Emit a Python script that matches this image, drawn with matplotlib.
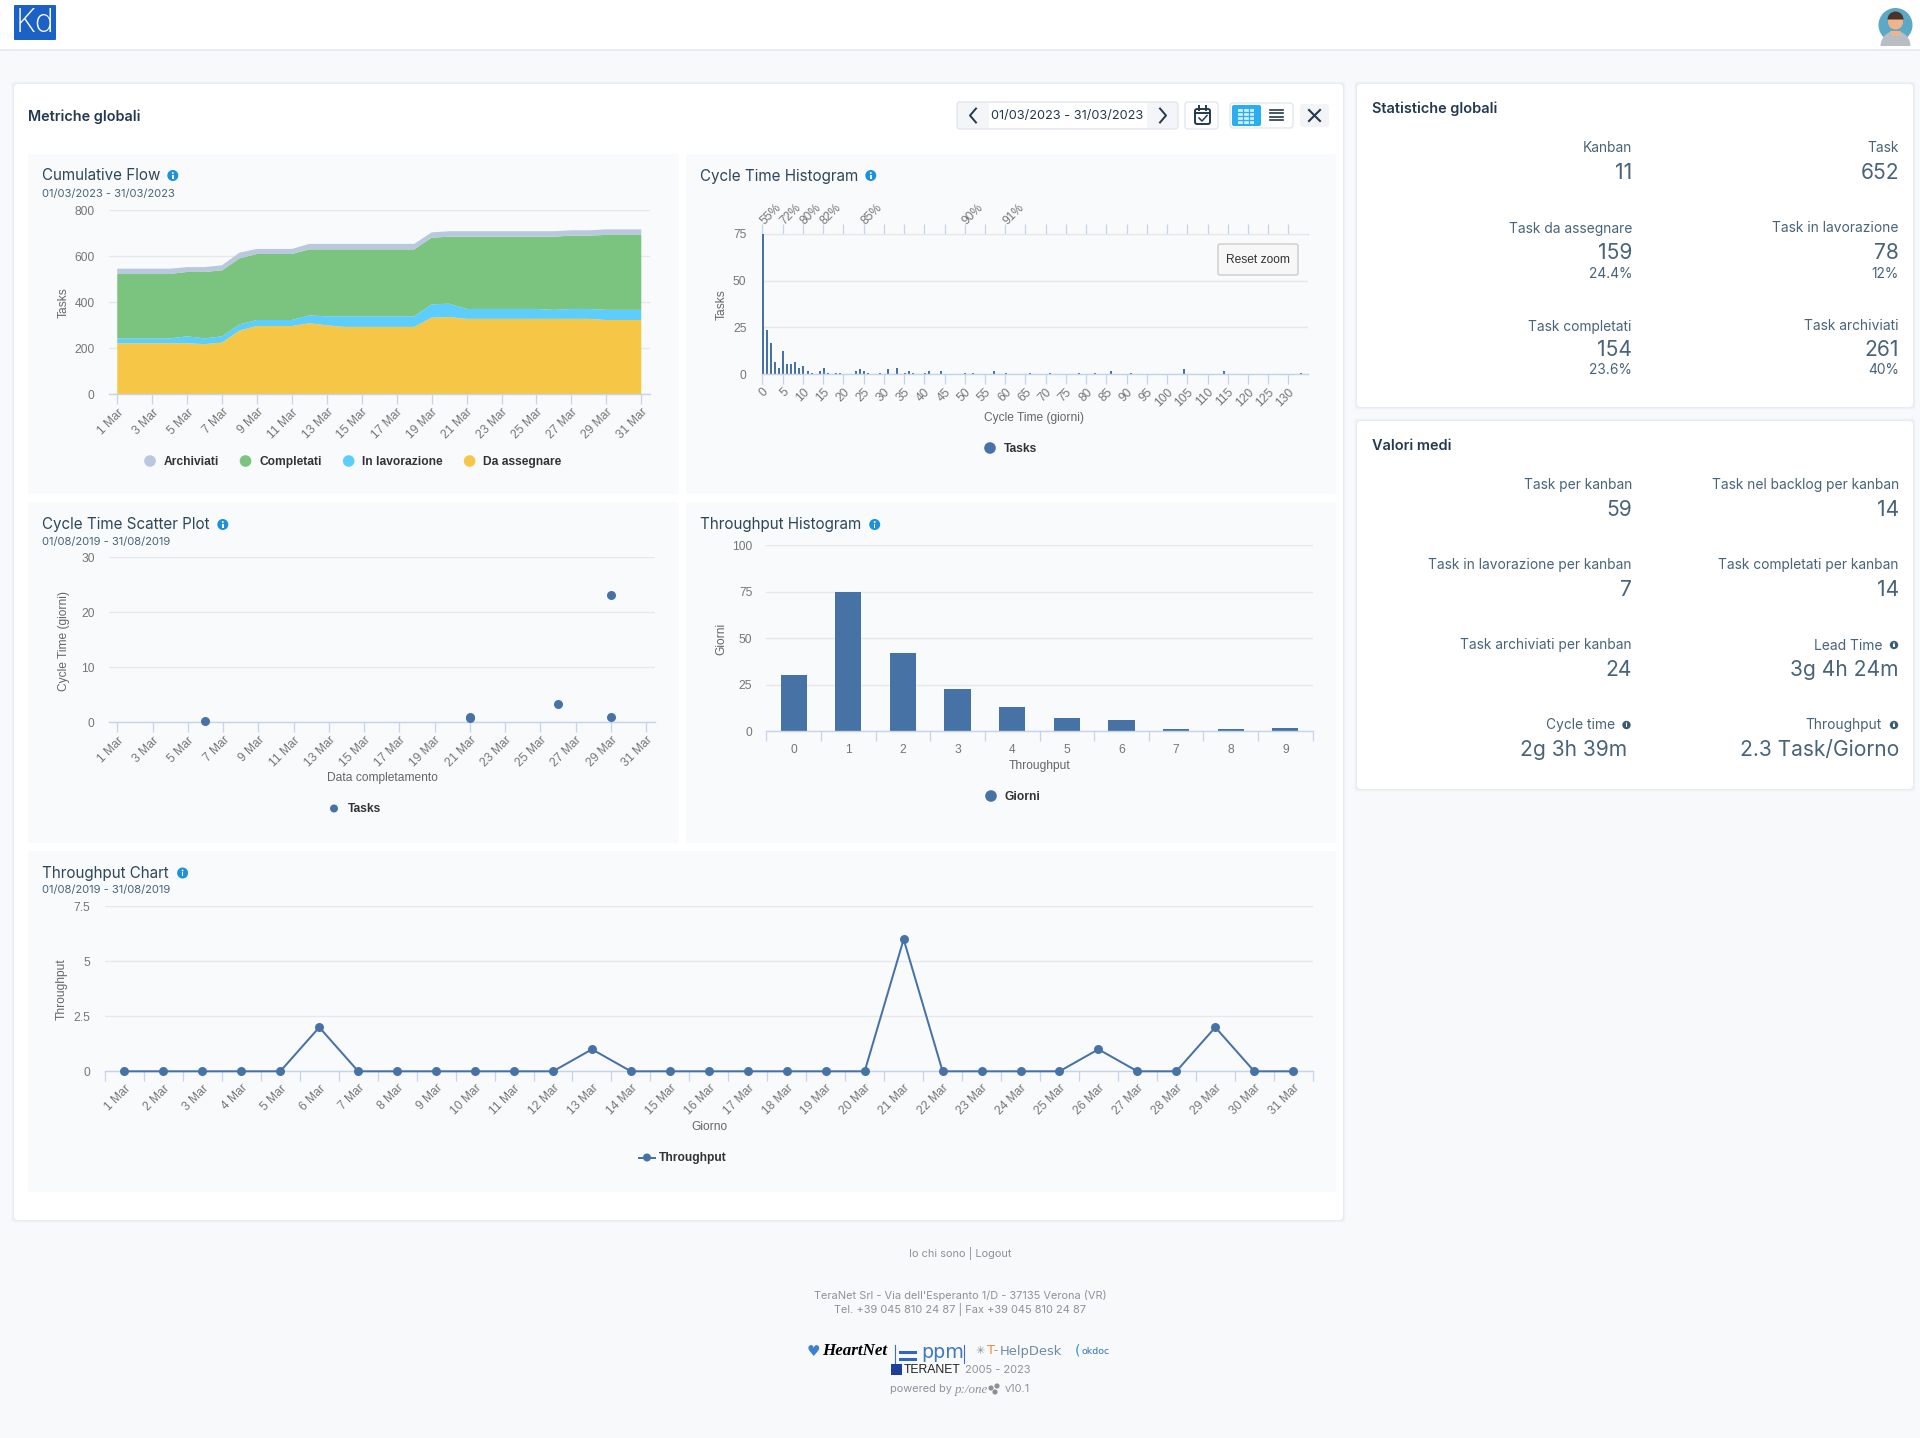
import matplotlib
matplotlib.use("Agg")
import matplotlib.pyplot as plt
from matplotlib.patches import FancyBboxPatch, Rectangle, Circle, Wedge, Polygon
from matplotlib.transforms import ScaledTranslation

W, H = 1920, 1438

# cumulative flow, one value per day of march
days = list(range(1, 32))
cf_assegnare = [222, 222, 222, 222, 222, 218, 225, 277, 297, 297, 297, 309, 300, 293, 293, 293,
                293, 293, 333, 336, 328, 328, 328, 328, 328, 328, 328, 328, 323, 323, 323]
cf_lavorazione = [21, 21, 21, 21, 30, 25, 27, 27, 26, 26, 26, 34, 39, 46, 46, 46,
                  46, 46, 58, 58, 43, 43, 43, 43, 43, 39, 43, 43, 44, 44, 44]
cf_completati = [280, 280, 280, 280, 280, 289, 287, 287, 287, 287, 287, 287, 291, 291, 291, 291,
                 291, 291, 290, 291, 314, 314, 314, 314, 314, 318, 319, 319, 326, 326, 326]
cf_archiviati = [23, 23, 23, 23, 21, 21, 22, 25, 22, 22, 22, 24, 24, 24, 24, 24,
                 24, 24, 23, 24, 24, 24, 24, 24, 24, 24, 23, 23, 24, 24, 24]
cf_names = ["Archiviati", "Completati", "In lavorazione", "Da assegnare"]

# cycle time histogram
cycle_days = [0, 1, 2, 3, 4, 5, 6, 7, 8, 9, 10, 11, 12, 14, 15, 16, 18, 19, 23, 24, 25, 26,
              29, 31, 33, 35, 36, 37, 40, 41, 44, 50, 52, 57, 60, 66, 71, 78, 82, 86, 91, 104, 114, 133]
cycle_tasks = [75, 23.5, 16.6, 6.4, 3.2, 12.3, 5.3, 5.3, 6.4, 3.2, 4.3, 1.6, 0.5, 1.6, 3.2, 0.5,
               0.5, 0.5, 1.6, 2.7, 1.6, 0.5, 0.5, 2.7, 3.2, 0.5, 1.6, 0.5, 0.5, 1.6, 1.6, 0.5,
               0.5, 1.6, 0.5, 0.5, 0.5, 0.5, 0.5, 1.6, 0.5, 2.7, 1.6, 0.5]
pct_ticks = {0: "55%", 5: "72%", 10: "80%", 15: "82%", 25: "85%", 50: "90%", 60: "91%"}

# scatter
scatter_day = [6, 21, 21, 26, 29, 29]
scatter_cycle = [0.2, 1.0, 0.7, 3.3, 23.1, 1.0]

# throughput histogram
hist_throughput = [0, 1, 2, 3, 4, 5, 6, 7, 8, 9]
hist_giorni = [30, 75, 42, 23, 13, 7, 6, 1, 1, 2]

# throughput chart
throughput = [0, 0, 0, 0, 0, 2, 0, 0, 0, 0, 0, 0, 1, 0, 0, 0,
              0, 0, 0, 0, 6, 0, 0, 0, 0, 1, 0, 0, 2, 0, 0]

stats_globali = [("Kanban", "11", "", "Task", "652", ""),
                 ("Task da assegnare", "159", "24.4%", "Task in lavorazione", "78", "12%"),
                 ("Task completati", "154", "23.6%", "Task archiviati", "261", "40%")]
valori_medi = [("Task per kanban", "59", "Task nel backlog per kanban", "14"),
               ("Task in lavorazione per kanban", "7", "Task completati per kanban", "14"),
               ("Task archiviati per kanban", "24", "Lead Time", "3g 4h 24m"),
               ("Cycle time", "2g 3h 39m", "Throughput", "2.3 Task/Giorno")]

BLUE = "#4672a6"
COL_ARCH, COL_COMP, COL_LAV, COL_ASS = "#b9c8dc", "#7bc47f", "#5dcdfd", "#f6c746"
AXIS = "#c6d4ea"
GRID = "#e6e8ec"
TICK = "#757575"
PANEL = "#f8fafc"
PAGE = "#f8f9fb"
TITLE = "#2f4759"
STAT = "#48637a"
DARK = "#24384f"
UI = "Inter"
CH = "Liberation Sans"


def pt(px):
    return px * 0.72


fig = plt.figure(figsize=(W / 100, H / 100), dpi=100, facecolor=PAGE)
bg = fig.add_axes([0, 0, 1, 1], zorder=0)
fg = fig.add_axes([0, 0, 1, 1], zorder=10)
for a in (bg, fg):
    a.set_xlim(0, W)
    a.set_ylim(H, 0)
    a.axis("off")
    a.patch.set_alpha(0)


def box(a, x0, y0, x1, y1, color, radius=3, ec="none", lw=0, z=1):
    a.add_patch(FancyBboxPatch((x0 + radius, y0 + radius), x1 - x0 - 2 * radius, y1 - y0 - 2 * radius,
                               boxstyle=f"round,pad={radius},rounding_size={radius}",
                               fc=color, ec=ec, lw=lw, zorder=z))


def card(x0, y0, x1, y1):
    for grow, alpha in ((3, 0.03), (2, 0.05), (1, 0.07)):
        bg.add_patch(FancyBboxPatch((x0, y0), x1 - x0, y1 - y0, boxstyle=f"round,pad={grow},rounding_size=4",
                                    fc="#8fa3bf", ec="none", alpha=alpha, zorder=1))
    box(bg, x0, y0, x1, y1, "white", radius=4, z=2)


def put(x, y, s, size, color=TITLE, ha="left", family=UI, weight="normal", rot=0, a=None, **kw):
    if rot:
        x += 2
    (a or fg).text(x, y + 1, s, fontsize=pt(size), color=color, ha=ha, va="center", family=family,
                   fontweight=weight, rotation=rot, **kw)


def info(x, y, r=5.5, color="#1b92da"):
    fg.add_patch(Circle((x, y), r, fc=color, ec="none", zorder=5))
    fg.add_patch(Circle((x, y - r * 0.45), r * 0.17, fc="white", ec="none", zorder=6))
    fg.add_patch(Rectangle((x - r * 0.14, y - r * 0.15), r * 0.28, r * 0.7, fc="white", ec="none", zorder=6))


def chart_axes(x0, x1, y_top, y_bottom, ylim, yticks, pad, ylabels=None):
    ax = fig.add_axes([x0 / W, 1 - y_bottom / H, (x1 - x0) / W, (y_bottom - y_top) / H], zorder=5)
    ax.patch.set_alpha(0)
    ax.set_ylim(*ylim)
    ax.set_yticks(yticks, ylabels if ylabels else [str(v) for v in yticks])
    for s in ("left", "right", "top"):
        ax.spines[s].set_visible(False)
    ax.spines["bottom"].set_color(AXIS)
    ax.spines["bottom"].set_linewidth(1.0)
    ax.grid(axis="y", color=GRID, lw=1.0)
    ax.set_axisbelow(True)
    ax.tick_params(axis="y", length=0, pad=pt(pad), labelsize=pt(12), labelcolor=TICK)
    ax.tick_params(axis="x", length=pt(10), width=0.9, color=AXIS, labelsize=pt(12), labelcolor=TICK, pad=pt(2))
    for lab in ax.get_yticklabels():
        lab.set_family(CH)
    return ax


def rot_labels(ax):
    for lab in ax.get_xticklabels():
        lab.set_family(CH)
        lab.set_rotation(45)
        lab.set_ha("right")
        lab.set_rotation_mode("anchor")


def legend_item(xm, y, name, color, r=5.8):
    fg.add_patch(Circle((xm, y), r, fc=color, ec="none"))
    put(xm + 13.5, y, name, 12, color="#333333", family=CH, weight="bold")


# page chrome
bg.add_patch(Rectangle((0, 0), W, 49, fc="white", ec="none", zorder=2))
bg.add_patch(Rectangle((0, 49), W, 2, fc="#e9edf3", ec="none", zorder=1))
box(fg, 14, 5, 56, 40, "#1c62c6", radius=1)
put(35, 22, "Kd", 32, color="white", ha="center", weight="light")

fg.add_patch(Circle((1895.5, 25), 17, fc="#5ba9c6", ec="none"))
fg.add_patch(Wedge((1895.5, 46), 15, 180, 360, fc="#b9bec4", ec="none"))
fg.add_patch(Circle((1895.5, 22), 7.5, fc="#efb48c", ec="none"))
fg.add_patch(Wedge((1895.5, 19.5), 8, 180, 360, fc="#4a3328", ec="none"))
fg.add_patch(Polygon([(1890, 31), (1901, 31), (1899, 36), (1892, 36)], fc="#efb48c", ec="none"))

card(14, 84, 1343, 1220)
card(1357, 84, 1913, 407)
card(1357, 421, 1913, 789)

panels = [(28, 154, 679, 494), (686, 154, 1336, 494), (28, 502, 679, 843),
          (686, 502, 1336, 843), (28, 851, 1336, 1192)]
for p in panels:
    box(bg, p[0], p[1], p[2], p[3], PANEL, radius=3, z=3)

put(28.5, 115.5, "Metriche globali", 14.4, color=DARK, weight="semibold")

# toolbar
box(fg, 957, 102, 1178, 129, "#f3f5f8", radius=3, ec="#e3e7ed", lw=1)
fg.add_patch(Rectangle((989, 103), 158, 25, fc="white", ec="none", zorder=2))
put(1067.5, 114.5, "01/03/2023 - 31/03/2023", 12.8, color=DARK, ha="center", zorder=4)
fg.plot([976, 970, 976], [108.5, 115.5, 122.5], color=DARK, lw=1.4, zorder=4)
fg.plot([1160, 1166, 1160], [108.5, 115.5, 122.5], color=DARK, lw=1.4, zorder=4)
box(fg, 1185, 102, 1218, 129, "white", radius=3, ec="#e3e7ed", lw=1)
box(fg, 1195, 109, 1210, 124, "white", radius=2, ec=DARK, lw=1.4, z=3)
fg.plot([1195, 1210], [112.5, 112.5], color=DARK, lw=1.4, zorder=4)
fg.plot([1199, 1199], [106, 110], color=DARK, lw=1.4, zorder=4)
fg.plot([1206, 1206], [106, 110], color=DARK, lw=1.4, zorder=4)
fg.plot([1199, 1202, 1207], [118, 121, 115.5], color=DARK, lw=1.1, zorder=4)
box(fg, 1230, 103, 1293, 128, "white", radius=3, ec="#e3e7ed", lw=1)
box(fg, 1232, 105, 1261, 126, "#2aaef0", radius=2, z=3)
fg.add_patch(Rectangle((1238, 108.5), 16, 15, fc="#cfeefd", ec="none", zorder=4))
for gx in (1243, 1248.5):
    fg.plot([gx, gx], [108.5, 123.5], color="#2aaef0", lw=0.9, zorder=5)
for gy in (112, 116, 120):
    fg.plot([1238, 1254], [gy, gy], color="#2aaef0", lw=0.9, zorder=5)
for gy in (110, 113.3, 116.6, 120):
    fg.plot([1270, 1283], [gy, gy], color=DARK, lw=1.2, zorder=4)
box(fg, 1300, 104, 1329, 127, "#f2f4f7", radius=3)
fg.plot([1309, 1320], [110, 121], color=DARK, lw=1.5, zorder=4)
fg.plot([1309, 1320], [121, 110], color=DARK, lw=1.5, zorder=4)

# panel titles
for x, y, s, xi in [(42, 175, "Cumulative Flow", 172.8), (700, 175, "Cycle Time Histogram", 870.8),
                    (42, 524, "Cycle Time Scatter Plot", 222.8), (700, 524, "Throughput Histogram", 874.7),
                    (42, 872.5, "Throughput Chart", 182.6)]:
    put(x, y, s, 15.2, color=TITLE)
    info(xi, y + 0.5)
put(42, 192.5, "01/03/2023 - 31/03/2023", 11.2, color=STAT)
put(42, 540.5, "01/08/2019 - 31/08/2019", 11.2, color=STAT)
put(42, 889.5, "01/08/2019 - 31/08/2019", 11.2, color=STAT)

# cumulative flow
ax = chart_axes(108.5, 650, 210.3, 394.3, (0, 800), [0, 200, 400, 600, 800], 14)
ax.stackplot(days, cf_assegnare, cf_lavorazione, cf_completati, cf_archiviati,
             colors=[COL_ASS, COL_LAV, COL_COMP, COL_ARCH], lw=0, zorder=2)
ax.set_xlim(0.5, 31.5)
ax.set_xticks(days[::2], [f"{d} Mar" for d in days[::2]])
rot_labels(ax)
put(61.5, 302, "Tasks", 12, color="#666666", family=CH, ha="center", rot=90)
for xm, name, col in zip((150, 245.5, 348.7, 469.6), cf_names, (COL_ARCH, COL_COMP, COL_LAV, COL_ASS)):
    legend_item(xm, 461, name, col)

# cycle time histogram
ax = chart_axes(762.4, 1307.5, 233.7, 374.3, (0, 75), [0, 25, 50, 75], 16)
ax.bar([d + 0.15 for d in cycle_days], cycle_tasks, width=0.5, color=BLUE, zorder=2)
ax.set_xlim(0, 134.7)
cycle_ticks = list(range(0, 131, 5))
ax.set_xticks(cycle_ticks, [str(v) for v in cycle_ticks])
rot_labels(ax)
top = ax.secondary_xaxis("top")
top.set_xticks(cycle_ticks, [pct_ticks.get(v, "") for v in cycle_ticks])
top.spines["top"].set_color(AXIS)
top.tick_params(length=pt(10), width=0.9, color=AXIS, labelsize=pt(12), labelcolor=TICK, pad=pt(0))
shift = ScaledTranslation(pt(4) / 72, pt(-3) / 72, fig.dpi_scale_trans)
for lab in top.get_xticklabels():
    lab.set_family(CH)
    lab.set_rotation(45)
    lab.set_ha("left")
    lab.set_rotation_mode("anchor")
    lab.set_transform(lab.get_transform() + shift)
put(719.5, 303.5, "Tasks", 12, color="#666666", family=CH, ha="center", rot=90)
put(1034, 417, "Cycle Time (giorni)", 12, color="#666666", family=CH, ha="center")
legend_item(990, 448, "Tasks", BLUE)
box(fg, 1218, 244, 1298, 275, "#f7f7f7", radius=2, ec="#cccccc", lw=1, z=6)
put(1258, 259, "Reset zoom", 12, color="#333333", family=CH, ha="center", zorder=7)

# scatter
ax = chart_axes(108.5, 655, 557.3, 722.3, (0, 30), [0, 10, 20, 30], 14)
ax.scatter(scatter_day, scatter_cycle, s=pt(9) ** 2, color=BLUE, zorder=3, clip_on=False, lw=0)
ax.set_xlim(0.5, 31.5)
ax.set_xticks(days[::2], [f"{d} Mar" for d in days[::2]])
rot_labels(ax)
put(61.5, 640, "Cycle Time (giorni)", 12, color="#666666", family=CH, ha="center", rot=90)
put(382, 776.5, "Data completamento", 12, color="#666666", family=CH, ha="center")
legend_item(334, 808.5, "Tasks", BLUE, r=4)

# throughput histogram
ax = chart_axes(766.3, 1312.7, 545.3, 731.3, (0, 100), [0, 25, 50, 75, 100], 14)
ax.bar(hist_throughput, hist_giorni, width=0.48, color=BLUE, zorder=2)
ax.set_xlim(-0.5, 9.5)
ax.set_xticks([v - 0.5 for v in range(11)], [""] * 11)
ax.set_xticks(hist_throughput, [str(v) for v in hist_throughput], minor=True)
ax.tick_params(axis="x", which="minor", length=0, labelsize=pt(12), labelcolor=TICK, pad=pt(13))
for lab in ax.get_xticklabels(minor=True):
    lab.set_family(CH)
put(719.5, 638, "Giorni", 12, color="#666666", family=CH, ha="center", rot=90)
put(1039.5, 765.5, "Throughput", 12, color="#666666", family=CH, ha="center")
legend_item(991, 796, "Giorni", BLUE)

# throughput chart
ax = chart_axes(105, 1312.7, 906.3, 1071.3, (0, 7.5), [0, 2.5, 5, 7.5], 14.5, ["0", "2.5", "5", "7.5"])
ax.plot(range(31), throughput, color=BLUE, lw=pt(2), marker="o", ms=pt(9), mew=0, zorder=3, clip_on=False)
ax.set_xlim(-0.5, 30.5)
ax.set_xticks([v - 0.5 for v in range(32)], [""] * 32)
ax.set_xticks(range(31), [f"{d} Mar" for d in days], minor=True)
ax.tick_params(axis="x", which="minor", length=0, labelsize=pt(12), labelcolor=TICK, pad=pt(11))
for lab in ax.get_xticklabels(minor=True):
    lab.set_family(CH)
    lab.set_rotation(45)
    lab.set_ha("right")
    lab.set_rotation_mode("anchor")
put(60, 988, "Throughput", 12, color="#666666", family=CH, ha="center", rot=90)
put(709, 1125.5, "Giorno", 12, color="#666666", family=CH, ha="center")
fg.plot([639, 655], [1157.5, 1157.5], color=BLUE, lw=pt(2))
fg.add_patch(Circle((647, 1157.5), 4, fc=BLUE, ec="none"))
put(659, 1157.5, "Throughput", 12, color="#333333", family=CH, weight="bold")

# right cards
C1, C2 = 1632, 1899
LBL, VAL, PCT = 13.8, 21, 13.8
put(1372, 107.5, "Statistiche globali", 14.5, color=DARK, weight="semibold")
rows_y = [(147.5, 172, None), (227.5, 252, 273), (325.5, 349, 369)]
for (ly, vy, py), row in zip(rows_y, stats_globali):
    for off, xr in ((0, C1), (3, C2)):
        put(xr, ly, row[off], LBL, color=STAT, ha="right")
        put(xr, vy, row[off + 1], VAL, color=STAT, ha="right")
        if py:
            put(xr, py, row[off + 2], PCT, color=STAT, ha="right")

put(1372, 444.5, "Valori medi", 14.5, color=DARK, weight="semibold")
rows_y = [(484.5, 509), (564.5, 589), (644.5, 669), (724.5, 749)]
for (ly, vy), row in zip(rows_y, valori_medi):
    for off, xr in ((0, C1), (2, C2)):
        name = row[off]
        lx, vx = xr, xr
        if name in ("Lead Time", "Throughput", "Cycle time"):
            info(xr - 5 if xr == C2 else xr - 5.5, ly + 0.5, r=4.2, color="#3f5a70")
            lx = xr - 17
            vx = xr - 5 if name == "Cycle time" else xr
        put(lx, ly, name, LBL, color=STAT, ha="right")
        put(vx, vy, row[off + 1], VAL, color=STAT, ha="right")

# footer
FOOT = "#8d9299"
put(960, 1252, "Io chi sono | Logout", 11, color=FOOT, ha="center")
put(960, 1294.5, "TeraNet Srl - Via dell'Esperanto 1/D - 37135 Verona (VR)", 11, color=FOOT, ha="center")
put(960, 1308.5, "Tel. +39 045 810 24 87 | Fax +39 045 810 24 87", 11, color=FOOT, ha="center")
put(813, 1350, "\u2665", 15, color="#3f7fd0", ha="center", family="DejaVu Sans")
put(822, 1350, "HeartNet", 17, color="black", family="Liberation Serif", weight="bold", style="italic")
fg.plot([895, 895], [1345, 1363], color="#3b6fc4", lw=0.8)
fg.plot([964, 964], [1345, 1363], color="#3b6fc4", lw=0.8)
fg.add_patch(Rectangle((899, 1351), 18, 2.5, fc="#2f66c9", ec="none"))
fg.add_patch(Rectangle((899, 1358), 18, 2.5, fc="#2f66c9", ec="none"))
put(921, 1352, "ppm", 19, color="#3f77c4", family="DejaVu Sans")
put(975, 1350, "\u2733", 11, color="#8b8f93", family="DejaVu Sans")
put(987, 1350, "T-", 13, color="#ee8a3c", family="DejaVu Sans")
put(1000, 1350, "HelpDesk", 13, color="#6d8ba3", family="DejaVu Sans")
put(1075, 1350, "(", 14, color="#2a9ae0", family="DejaVu Sans")
put(1081, 1350, "okdoc", 9.5, color="#2a78b8", family="DejaVu Sans")
fg.add_patch(Rectangle((891, 1364), 11, 11, fc="#1e3f9a", ec="none"))
put(904, 1369, "TERANET", 12.2, color="#222222", family="Liberation Sans")
put(965, 1369, "2005 - 2023", 11, color=FOOT)
put(890, 1388, "powered by", 11, color=FOOT)
put(955, 1389, "p:/one", 13, color=FOOT, family="Liberation Serif", style="italic")
for dx, dy in ((991, 1388), (997, 1386), (995, 1392)):
    fg.add_patch(Circle((dx, dy), 2.6, fc="#8d9299", ec="none"))
put(1005, 1388, "v10.1", 11, color=FOOT)

fig.savefig("out.png", dpi=100, facecolor=PAGE)
